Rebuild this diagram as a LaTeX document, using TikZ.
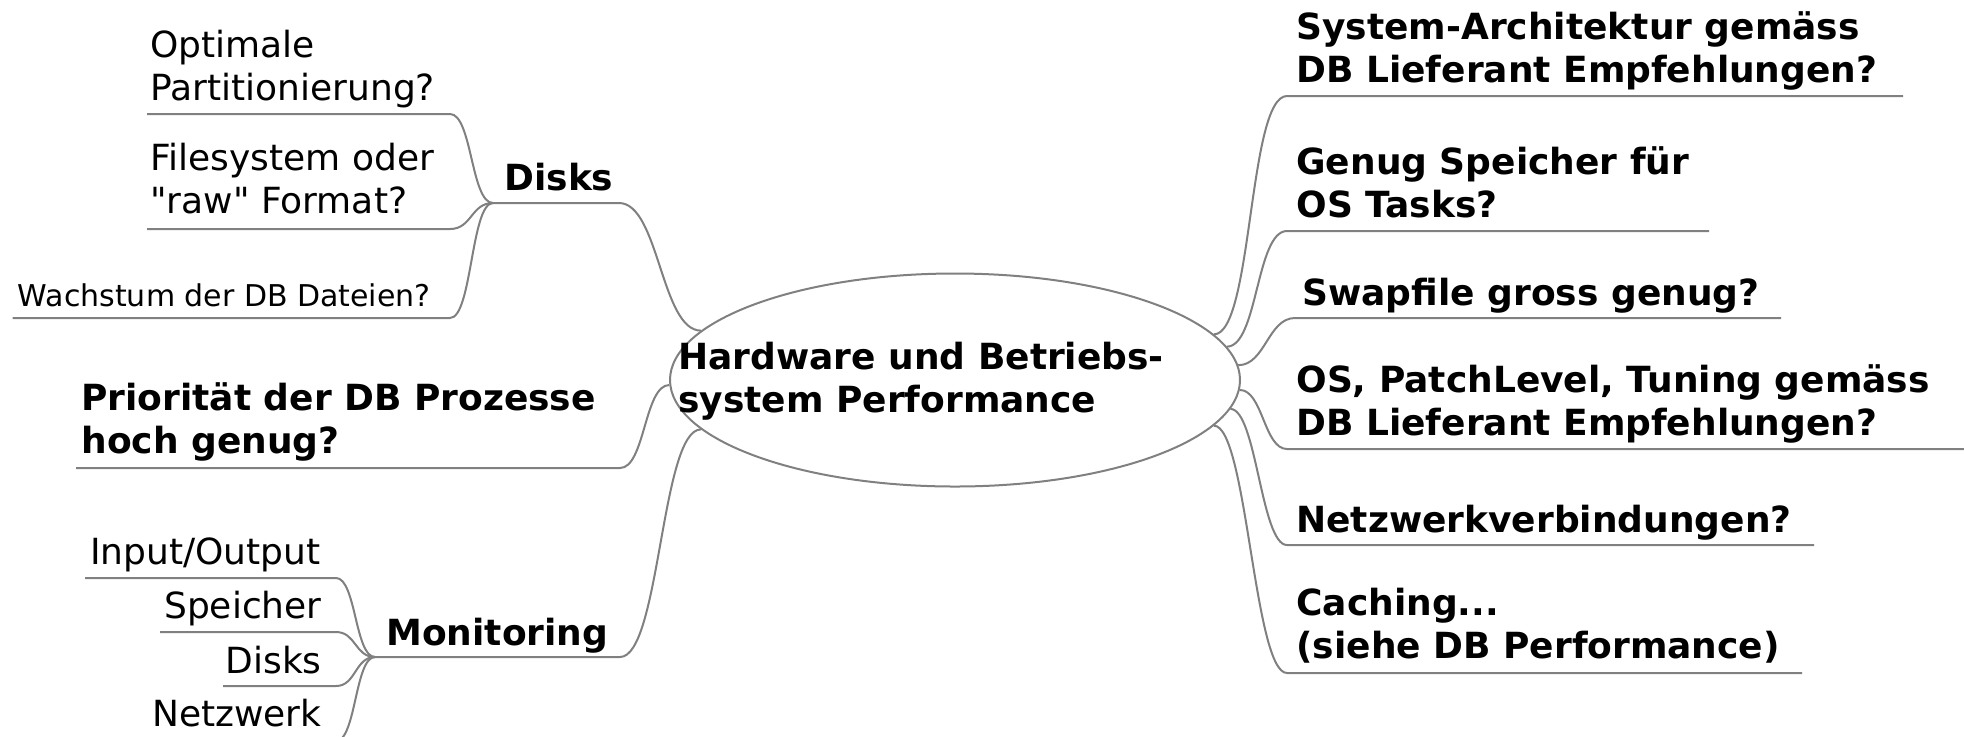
\documentclass[tikz,border=0pt]{standalone}
\usepackage{fontspec}
\setmainfont{DejaVu Sans}[Ligatures=TeXOff]
\usetikzlibrary{shapes.geometric}
\definecolor{linegray}{RGB}{128,128,128}
\begin{document}
\begin{tikzpicture}[x=0.5pt,y=-0.5pt,
  conn/.style={draw=linegray, line width=1pt},
  leaf/.style={anchor=base west, inner sep=0pt, align=left, font=\fontsize{18}{21.5}\selectfont},
  rleaf/.style={leaf, anchor=base east, align=right},
  bleaf/.style={leaf, font=\fontsize{18}{21.5}\selectfont\bfseries},
  sleaf/.style={leaf, font=\fontsize{15}{18}\selectfont}]
\useasboundingbox (0,0) rectangle (1964,736);

% centre (base anchor of a two-line node = baseline of the last line)
\node[draw=linegray, line width=1pt, ellipse, minimum width=285pt, minimum height=106.5pt, inner sep=0pt] (hw) at (955,380) {};
\node[bleaf] (hwt) at (678,412) {Hardware und Betriebs-\\system Performance};

% Disks branch
\node[leaf] (opt) at (150,100) {Optimale\\Partitionierung?};
\coordinate (opt-l) at (147,114); \coordinate (opt-r) at (450,114);
\node[leaf] (fs) at (150,213) {Filesystem oder\\"raw" Format?};
\coordinate (fs-l) at (147,229); \coordinate (fs-r) at (450,229);
\node[sleaf] (wach) at (17.5,306) {Wachstum der DB Dateien?};
\coordinate (wach-l) at (12.5,318); \coordinate (wach-r) at (450,318);
\node[bleaf] (disks) at (504,190) {Disks};
\coordinate (disks-l) at (493,203); \coordinate (disks-r) at (619,203);

\draw[conn] (opt-l) -- (opt-r) .. controls +(22,0) and +(-22,0) .. (disks-l);
\draw[conn] (fs-l) -- (fs-r) .. controls +(22,0) and +(-22,0) .. (disks-l);
\draw[conn] (wach-l) -- (wach-r) .. controls +(22,0) and +(-22,0) .. (disks-l);
\draw[conn] (disks-l) -- (disks-r) .. controls +(40,0) and +(-40,0) .. (hw.169.7);

% Prioritaet
\node[bleaf] (prio) at (81,453) {Priorität der DB Prozesse\\hoch genug?};
\coordinate (prio-l) at (76,468); \coordinate (prio-r) at (620,468);
\draw[conn] (prio-l) -- (prio-r) .. controls +(25,0) and +(-25,0) .. (hw.181.7);

% Monitoring branch
\node[bleaf] (mon) at (386,645) {Monitoring};
\coordinate (mon-l) at (375,657); \coordinate (mon-r) at (620,657);
\draw[conn] (mon-l) -- (mon-r) .. controls +(40,0) and +(-40,0) .. (hw.191.7);

\node[rleaf] (io) at (321,564) {Input/Output};
\coordinate (io-l) at (85,578); \coordinate (io-r) at (336,578);
\node[rleaf] (sp) at (322,618) {Speicher};
\coordinate (sp-l) at (160,632); \coordinate (sp-r) at (336,632);
\node[rleaf] (dk) at (322,673) {Disks};
\coordinate (dk-l) at (223,686); \coordinate (dk-r) at (336,686);
\node[rleaf] (nw) at (322,726) {Netzwerk};
\coordinate (nw-l) at (153,741); \coordinate (nw-r) at (336,741);

\draw[conn] (io-l) -- (io-r) .. controls +(20,0) and +(-20,0) .. (mon-l);
\draw[conn] (sp-l) -- (sp-r) .. controls +(20,0) and +(-20,0) .. (mon-l);
\draw[conn] (dk-l) -- (dk-r) .. controls +(20,0) and +(-20,0) .. (mon-l);
\draw[conn] (nw-l) -- (nw-r) .. controls +(20,0) and +(-20,0) .. (mon-l);

% right side
\node[bleaf] (sys) at (1296,82) {System-Architektur gemäss\\DB Lieferant Empfehlungen?};
\coordinate (sys-l) at (1287,96); \coordinate (sys-r) at (1903,96);
\node[bleaf] (gen) at (1296,217) {Genug Speicher für\\OS Tasks?};
\coordinate (gen-l) at (1287,231); \coordinate (gen-r) at (1709,231);
\node[bleaf] (swap) at (1302,305) {Swapfile gross genug?};
\coordinate (swap-l) at (1295,318); \coordinate (swap-r) at (1781,318);
\node[bleaf] (os) at (1296,435) {OS, PatchLevel, Tuning gemäss\\DB Lieferant Empfehlungen?};
\coordinate (os-l) at (1287,449); \coordinate (os-r) at (1964,449);
\node[bleaf] (net) at (1296,532) {Netzwerkverbindungen?};
\coordinate (net-l) at (1287,545); \coordinate (net-r) at (1814,545);
\node[bleaf] (cach) at (1296,658) {Caching...\\(siehe DB Performance)};
\coordinate (cach-l) at (1287,673); \coordinate (cach-r) at (1802,673);

\draw[conn] (hw.10.6) .. controls +(39,0) and +(-39,0) .. (sys-l) -- (sys-r);
\draw[conn] (hw.7.5) .. controls +(31,0) and +(-31,0) .. (gen-l) -- (gen-r);
\draw[conn] (hw.3.3) .. controls +(27,0) and +(-27,0) .. (swap-l) -- (swap-r);
\draw[conn] (hw.358.9) .. controls +(23,0) and +(-23,0) .. (os-l) -- (os-r);
\draw[conn] (hw.354.8) .. controls +(26,0) and +(-26,0) .. (net-l) -- (net-r);
\draw[conn] (hw.350.9) .. controls +(33,0) and +(-33,0) .. (cach-l) -- (cach-r);
\end{tikzpicture}
\end{document}
